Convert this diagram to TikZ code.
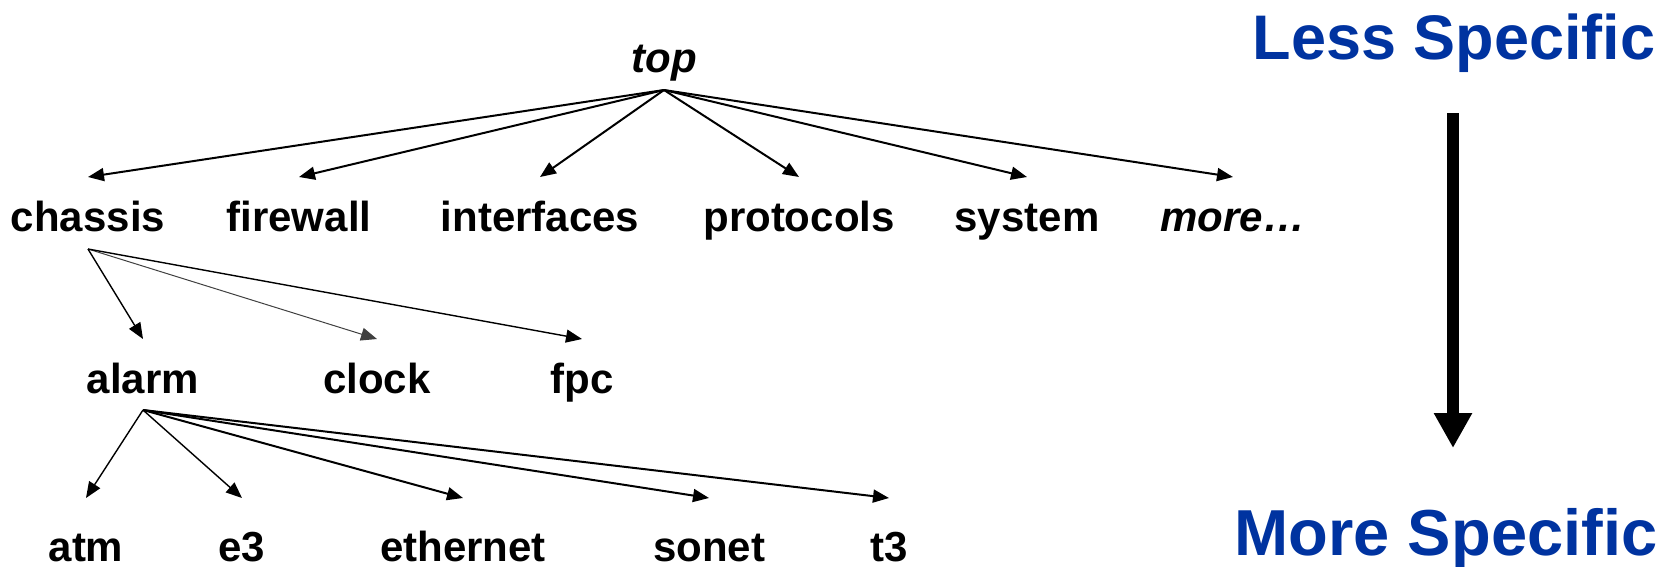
\documentclass[tikz,border=0pt]{standalone}
\usepackage{fontspec}
\setmainfont{Liberation Sans}
\usetikzlibrary{arrows.meta}
\definecolor{specblue}{RGB}{0,51,160}
\begin{document}
\begin{tikzpicture}[x=1pt,y=-1pt,
  lbl/.style={anchor=base, inner sep=0pt, font=\fontsize{42}{50}\selectfont\bfseries},
  ilbl/.style={anchor=base, inner sep=0pt, font=\fontsize{42}{50}\selectfont\bfseries\itshape},
  edge/.style={line width=2pt, -{Triangle[length=16pt,width=13pt]}},
  thinedge/.style={edge, line width=1.4pt},
  faintedge/.style={edge, line width=1pt, draw=black!75},
  heading/.style={anchor=base, inner sep=0pt, text=specblue},
  bigarrow/.style={line width=12pt, -{Triangle[length=35pt,width=36pt]}}
]
\useasboundingbox (0,0) rectangle (1679,566);

% root
\node[ilbl] (top) at (664,72) {top};

% first level
\node[lbl]  (chassis)    at (88,231)   {chassis};
\node[lbl]  (firewall)   at (299,231)  {firewall};
\node[lbl]  (interfaces) at (540,231)  {interfaces};
\node[lbl]  (protocols)  at (799,231)  {protocols};
\node[lbl]  (system)     at (1027,231) {system};
\node[ilbl] (more)       at (1233,231) {more…};

% second level (under chassis)
\node[lbl] (alarm) at (143,393) {alarm};
\node[lbl] (clock) at (377,393) {clock};
\node[lbl] (fpc)   at (582,393) {fpc};

% third level (under alarm)
\node[lbl] (atm)      at (86,561)  {atm};
\node[lbl] (e3)       at (242,561) {e3};
\node[lbl] (ethernet) at (463,561) {ethernet};
\node[lbl] (sonet)    at (709,561) {sonet};
\node[lbl] (t3)       at (889,561) {t3};

% edges from the root
\foreach \c in {chassis,firewall,interfaces,protocols,system,more}
  \draw[edge] ([yshift=-18pt]top.base) -- ([yshift=54pt]\c.base);

% edges from chassis
\draw[thinedge]  ([yshift=-18pt]chassis.base) -- ([yshift=54pt]alarm.base);
\draw[faintedge] ([yshift=-18pt]chassis.base) -- ([yshift=54pt]clock.base);
\draw[thinedge]  ([yshift=-18pt]chassis.base) -- ([yshift=54pt]fpc.base);

% edges from alarm
\draw[thinedge] ([yshift=-17pt]alarm.base) -- ([yshift=63pt]atm.base);
\draw[thinedge] ([yshift=-17pt]alarm.base) -- ([yshift=63pt]e3.base);
\foreach \c in {ethernet,sonet,t3}
  \draw[edge] ([yshift=-17pt]alarm.base) -- ([yshift=63pt]\c.base);

% specificity scale
\node[heading, font=\fontsize{63}{70}\selectfont\bfseries] (less) at (1454,59) {Less Specific};
\node[heading, font=\fontsize{65}{72}\selectfont\bfseries] (morespec) at (1446,555) {More Specific};
\coordinate (flowtop) at (1453,113);
\coordinate (flowbot) at (1453,448);
\draw[bigarrow] (flowtop) -- (flowbot);
\end{tikzpicture}
\end{document}
